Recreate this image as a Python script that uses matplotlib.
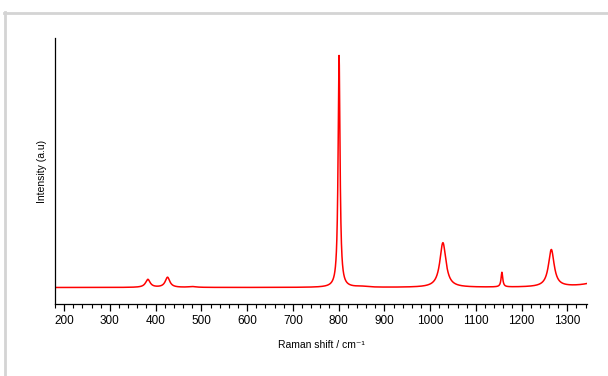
import numpy as np
import matplotlib
matplotlib.use("Agg")
import matplotlib.pyplot as plt
from matplotlib.ticker import MultipleLocator
from matplotlib.lines import Line2D

# Peak parameters (Lorentzian bands)
peak_centers = [383, 426, 480, 801, 850, 1028, 1157, 1265, 1395]
peak_heights = [30, 38, 3, 872, 3, 168, 55, 140, 55]
peak_hwhm = [6, 6, 10, 2.5, 15, 8, 2.2, 7.5, 30]
baseline_level = 62
x_range = [180, 1343]

x = np.linspace(x_range[0], x_range[1], 6000)
y = np.full_like(x, float(baseline_level))
for c, h, w in zip(peak_centers, peak_heights, peak_hwhm):
    y += h * w**2 / ((x - c) ** 2 + w**2)

plt.rcParams['font.family'] = ['Liberation Sans', 'DejaVu Sans']
fig = plt.figure(figsize=(6.08, 3.76), dpi=100)
ax = fig.add_axes([55/608, 1-304/376, 532/608, 266/376])
ax.plot(x, y, color='#ff0000', lw=1.1)
ax.set_xlim(180, 1343)
ax.set_ylim(0, 1000)
ax.spines['top'].set_visible(False)
ax.spines['right'].set_visible(False)
ax.spines['left'].set_linewidth(0.9)
ax.spines['bottom'].set_linewidth(0.9)
ax.set_yticks([])
ax.xaxis.set_major_locator(MultipleLocator(100))
ax.xaxis.set_minor_locator(MultipleLocator(20))
ax.tick_params(axis='x', which='major', length=5, width=0.9, labelsize=8.5, pad=3)
ax.tick_params(axis='x', which='minor', length=3, width=0.8)
ax.set_xlabel('Raman shift / cm\u207b\u00b9', fontsize=7.5, labelpad=9)
ax.set_ylabel('Intensity (a.u)', fontsize=7.5, labelpad=6)

# gray frame
fig.add_artist(Line2D([5/608, 5/608], [0, 1-12/376], transform=fig.transFigure, color='#d4d4d4', lw=2))
fig.add_artist(Line2D([4/608, 1], [1-13/376, 1-13/376], transform=fig.transFigure, color='#d4d4d4', lw=2))

fig.savefig('out.png', dpi=100)
